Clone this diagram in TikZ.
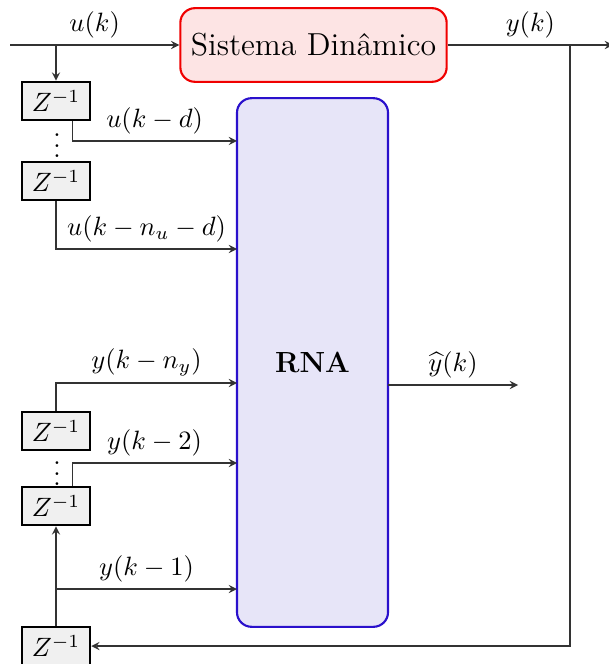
\documentclass[tikz,border=0pt]{standalone}
\usepackage{fontspec}
\usepackage{amsmath}
\usepackage{tikz}
\usetikzlibrary{positioning,arrows,calc}
\definecolor{ink}     {HTML}{333333}
\definecolor{sysred}  {HTML}{F00000}
\definecolor{sysfill} {HTML}{FDE4E4}
\definecolor{rnablue} {HTML}{2A10CC}
\definecolor{rnafill} {HTML}{E7E5F8}
\definecolor{delfill} {HTML}{F0F0F0}
\tikzset{
  >=stealth,
  % --- nodes
  sysbox/.style = {rounded corners=5.5pt, draw=sysred, fill=sysfill, thick,
                   minimum width=100.5pt, minimum height=27.8pt, font=\large},
  rnabox/.style = {rounded corners=5.5pt, draw=rnablue, fill=rnafill, thick,
                   minimum width=57pt, minimum height=199.5pt,
                   font=\fontsize{11}{13}\selectfont\bfseries},
  delay/.style  = {draw=black, fill=delfill, line width=1pt, inner sep=0pt,
                   minimum width=25.6pt, minimum height=14.3pt},
  lbl/.style    = {above, inner sep=2.5pt},
  % --- edges
  e/.style      = {-stealth, draw=ink},
}

\begin{document}
\begin{tikzpicture}[x=0.3774pt, y=-0.3774pt]
  \useasboundingbox (0,0) rectangle (608,664);

  % plant
  \coordinate (uin) at (10,45);
  \coordinate (ubr) at (56,45);
  \coordinate (ybr) at (570,45);
  \coordinate (yout) at (613,45);
  \node[sysbox] (sys) at (313.5,45) {Sistema Dinâmico};

  % network
  \node[rnabox] (rna) at (312.5,362.5) {RNA};
  \coordinate (in1) at (237,141);
  \coordinate (in2) at (237,249);
  \coordinate (in3) at (237,383);
  \coordinate (in4) at (237,463);
  \coordinate (in5) at (237,589);
  \coordinate (y1br) at (56,589);
  \coordinate (rout) at (388,385);
  \coordinate (yhat) at (518,385);

  % delays on u
  \node[delay] (zu1) at (56,101) {$Z^{-1}$};
  \node (du) at (57,138) {$\vdots$};
  \node[delay] (zu2) at (56,181) {$Z^{-1}$};

  % delays on y
  \node[delay] (zy3) at (56,431) {$Z^{-1}$};
  \node (dy) at (57,466) {$\vdots$};
  \node[delay] (zy2) at (56,506) {$Z^{-1}$};
  \node[delay] (zy1) at (56,646) {$Z^{-1}$};

  % plant signals
  \draw[e] (uin) -- node[lbl] {$u(k)$} (sys);
  \draw[e] (ubr) -- (zu1);
  \draw[e] (sys) -- node[lbl] {$y(k)$} (yout);
  \draw[e] (ybr) |- (zy1.east);

  % regressors into the network
  \draw[e] ([xshift=-7.2pt]zu1.south east) |- node[lbl, pos=0.75] {$u(k-d)$} (in1);
  \draw[e] (zu2.south) |- node[lbl, pos=0.75] {$u(k-n_u-d)$} (in2);
  \draw[e] (zy3.north) |- node[lbl, pos=0.75] {$y(k-n_y)$} (in3);
  \draw[e] ([xshift=-7.2pt]zy2.north east) |- node[lbl, pos=0.75] {$y(k-2)$} (in4);
  \draw[e] (zy1) -- (zy2);
  \draw[e] (y1br) -- node[lbl] {$y(k-1)$} (in5);

  % estimate
  \draw[e] (rout) -- node[lbl] {$\widehat{y}(k)$} (yhat);
\end{tikzpicture}
\end{document}
